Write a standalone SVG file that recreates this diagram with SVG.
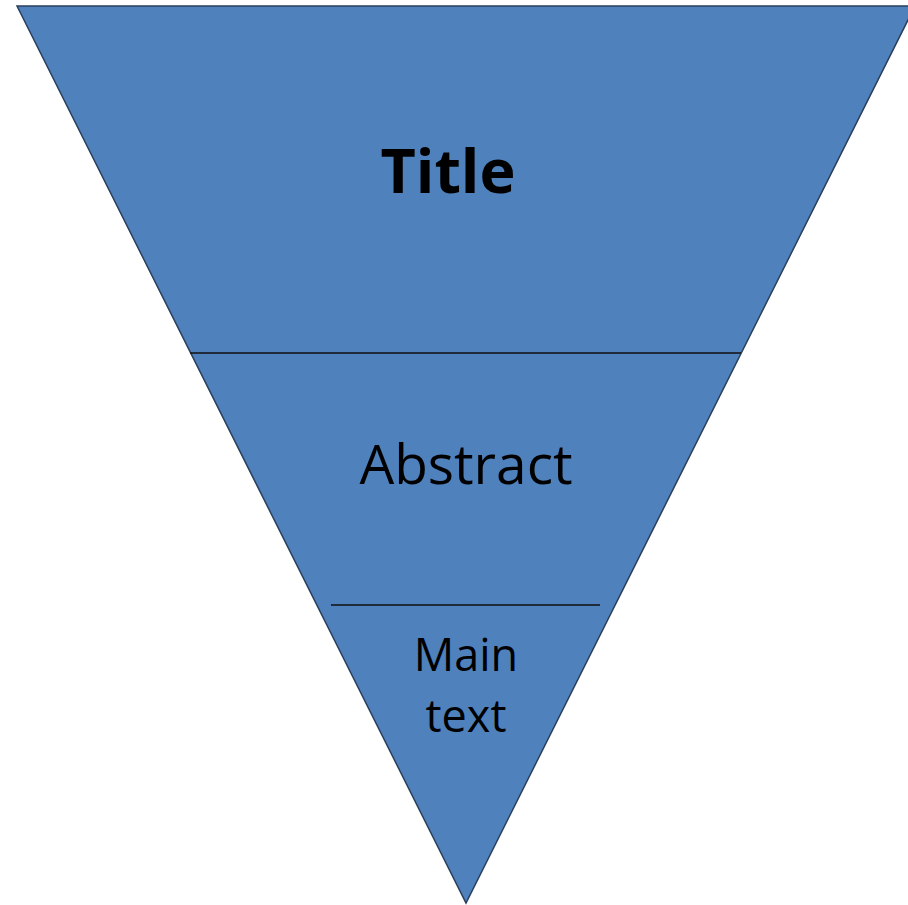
<svg xmlns="http://www.w3.org/2000/svg" width="908" height="905" viewBox="0 0 908 905">
<style>
.lbl{font-family:"Open Sans","Noto Sans",sans-serif;fill:#000;text-anchor:middle}
.div{stroke:#111;stroke-width:1.6}
</style>
<rect width="908" height="905" fill="#fff"/>
<g id="funnel">
<polygon points="17,6 915,6 466,903" fill="#4F81BD" stroke="#2a3f5c" stroke-width="1.5"/>
</g>
<g id="connectors">
<line class="div" x1="190" y1="353" x2="741" y2="353"/>
<line class="div" x1="331" y1="605" x2="600" y2="605"/>
</g>
<g id="title"><text class="lbl" x="448" y="193" font-size="61" font-weight="bold">Title</text></g>
<g id="abstract"><text class="lbl" x="466" y="484" font-size="55">Abstract</text></g>
<g id="main"><text class="lbl" x="466" y="671" font-size="45">Main</text><text class="lbl" x="466" y="732" font-size="45">text</text></g>
</svg>
